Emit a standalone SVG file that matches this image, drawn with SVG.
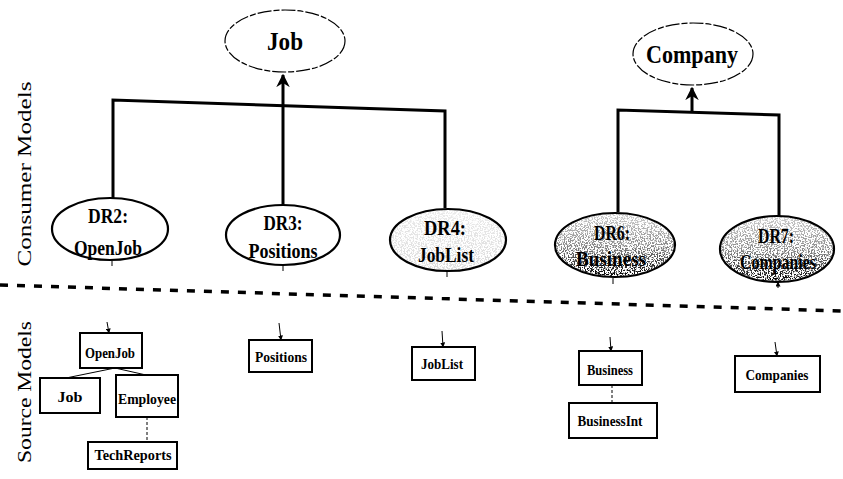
<svg xmlns="http://www.w3.org/2000/svg" width="843" height="479" viewBox="0 0 843 479">
<style>
.bg{fill:#fff}
.ell{fill:none;stroke:#000;stroke-width:2.2}
.top{fill:#fff;stroke:#000;stroke-width:1.2;stroke-dasharray:14 2 6 2}
.con{fill:none;stroke:#000;stroke-width:3}
.box{fill:#fff;stroke:#000;stroke-width:2}
.thin{fill:none;stroke:#000;stroke-width:1}
.dash{fill:none;stroke:#000;stroke-width:3.5;stroke-dasharray:8 9}
.dr{font-family:"Liberation Serif",serif;font-weight:bold;font-size:22px;fill:#000;text-anchor:middle}
.tt{font-family:"Liberation Serif",serif;font-weight:bold;font-size:26px;fill:#000;text-anchor:middle}
.sm{font-family:"Liberation Serif",serif;font-weight:bold;font-size:14px;fill:#000;text-anchor:middle}
.side{font-family:"Liberation Serif",serif;font-size:18px;fill:#000;text-anchor:middle}
</style>
<defs>
<marker id="ah" viewBox="0 0 10 10" refX="9" refY="5" markerWidth="4.5" markerHeight="4.5" orient="auto" markerUnits="strokeWidth">
<path d="M0,0 L10,5 L0,10 L3,5 z" fill="#000"/>
</marker>
<marker id="sa" viewBox="0 0 10 10" refX="9" refY="5" markerWidth="5" markerHeight="5" orient="auto" markerUnits="userSpaceOnUse">
<path d="M0,0 L10,5 L0,10 z" fill="#000"/>
</marker>
<linearGradient id="gd" x1="0" y1="0" x2="0" y2="1">
<stop offset="0" stop-color="#000" stop-opacity="0.2"/>
<stop offset="0.5" stop-color="#000" stop-opacity="0.45"/>
<stop offset="1" stop-color="#000" stop-opacity="1"/>
</linearGradient>
<linearGradient id="gl" x1="0" y1="0" x2="0" y2="1">
<stop offset="0" stop-color="#000" stop-opacity="0.08"/>
<stop offset="1" stop-color="#000" stop-opacity="0.14"/>
</linearGradient>
<filter id="sp" x="0" y="0" width="1" height="1">
<feTurbulence type="fractalNoise" baseFrequency="0.7" numOctaves="2" seed="4" result="n"/>
<feColorMatrix in="n" type="matrix" values="0 0 0 0 0  0 0 0 0 0  0 0 0 0 0  9 0 0 0 -4.2" result="d"/>
<feComposite in="d" in2="SourceGraphic" operator="in"/>
</filter>
</defs>
<rect class="bg" x="0" y="0" width="843" height="479"/>

<text class="side" transform="translate(31,174) rotate(-90)" textLength="185" lengthAdjust="spacingAndGlyphs">Consumer Models</text>
<text class="side" transform="translate(31,392) rotate(-90)" textLength="142" lengthAdjust="spacingAndGlyphs">Source Models</text>

<path class="dash" d="M0,285 L843,311"/>

<g id="connectors">
<path class="con" d="M113,198 L113,100 L445,111 L445,208"/>
<path class="con" d="M283,205 L283,75" marker-end="url(#ah)"/>
<path class="con" d="M618,212 L618,110 L779,115 L779,216"/>
<path class="con" d="M692,112 L692,88" marker-end="url(#ah)"/>
<path class="thin" d="M115,368 L66,378"/>
<path class="thin" d="M115,368 L146,375"/>
<path class="thin" d="M147,417 L147,442" stroke-dasharray="3 2"/>
<path class="thin" d="M612,385 L612,403" stroke-dasharray="3 2"/>
<path class="thin" d="M112,261 L112,266"/>
<path class="thin" d="M283,266 L283,271"/>
<path class="thin" d="M447,272 L447,277"/>
<path class="thin" d="M613,278 L613,284"/>
<path class="thin" d="M778,288 L778,282" marker-end="url(#sa)"/>
<path class="thin" d="M107,322 L109,333" marker-end="url(#sa)"/>
<path class="thin" d="M279,323 L281,340" marker-end="url(#sa)"/>
<path class="thin" d="M442,331 L443,347" marker-end="url(#sa)"/>
<path class="thin" d="M610,337 L611,351" marker-end="url(#sa)"/>
<path class="thin" d="M775,342 L777,356" marker-end="url(#sa)"/>
</g>

<g id="job">
<ellipse class="top" cx="285" cy="41" rx="60" ry="31"/>
<text class="tt" x="285" y="50" textLength="36" lengthAdjust="spacingAndGlyphs">Job</text>
</g>
<g id="company">
<ellipse class="top" cx="693" cy="54" rx="60" ry="31"/>
<text class="tt" x="692" y="63" textLength="92" lengthAdjust="spacingAndGlyphs">Company</text>
</g>

<g id="dr2">
<ellipse class="ell" cx="110" cy="229" rx="58" ry="31"/>
<text class="dr" x="108" y="223" textLength="40" lengthAdjust="spacingAndGlyphs">DR2:</text>
<text class="dr" x="108" y="255" textLength="68" lengthAdjust="spacingAndGlyphs">OpenJob</text>
</g>
<g id="dr3">
<ellipse class="ell" cx="283" cy="235" rx="57" ry="30"/>
<text class="dr" x="283" y="230" textLength="39" lengthAdjust="spacingAndGlyphs">DR3:</text>
<text class="dr" x="283" y="258" textLength="69" lengthAdjust="spacingAndGlyphs">Positions</text>
</g>
<g id="dr4">
<ellipse cx="448" cy="240" rx="57" ry="30" fill="url(#gl)" filter="url(#sp)"/>
<ellipse class="ell" cx="448" cy="240" rx="58" ry="31"/>
<text class="dr" x="445" y="235" textLength="42" lengthAdjust="spacingAndGlyphs">DR4:</text>
<text class="dr" x="446" y="262" textLength="56" lengthAdjust="spacingAndGlyphs">JobList</text>
</g>
<g id="dr6">
<ellipse cx="615" cy="245" rx="59" ry="31" fill="url(#gd)" filter="url(#sp)"/>
<ellipse class="ell" cx="615" cy="245" rx="60" ry="32"/>
<text class="dr" x="612" y="240" textLength="36" lengthAdjust="spacingAndGlyphs">DR6:</text>
<text class="dr" x="611" y="266" textLength="70" lengthAdjust="spacingAndGlyphs">Business</text>
</g>
<g id="dr7">
<ellipse cx="777" cy="249" rx="56" ry="32" fill="url(#gd)" filter="url(#sp)"/>
<ellipse class="ell" cx="777" cy="249" rx="57" ry="33"/>
<text class="dr" x="776" y="243" textLength="36" lengthAdjust="spacingAndGlyphs">DR7:</text>
<text class="dr" x="778" y="269" textLength="76" lengthAdjust="spacingAndGlyphs">Companies</text>
</g>

<g id="s-openjob"><rect class="box" x="80" y="333" width="62" height="35"/><text class="sm" x="110" y="358" textLength="50" lengthAdjust="spacingAndGlyphs">OpenJob</text></g>
<g id="s-job"><rect class="box" x="40" y="378" width="60" height="35"/><text class="sm" x="70" y="402" textLength="25" lengthAdjust="spacingAndGlyphs">Job</text></g>
<g id="s-employee"><rect class="box" x="116" y="375" width="62" height="42"/><text class="sm" x="147" y="404" textLength="58" lengthAdjust="spacingAndGlyphs">Employee</text></g>
<g id="s-techreports"><rect class="box" x="88" y="442" width="89" height="27"/><text class="sm" x="133" y="460" textLength="77" lengthAdjust="spacingAndGlyphs">TechReports</text></g>
<g id="s-positions"><rect class="box" x="249" y="340" width="63" height="32"/><text class="sm" x="281" y="362" textLength="52" lengthAdjust="spacingAndGlyphs">Positions</text></g>
<g id="s-joblist"><rect class="box" x="412" y="347" width="63" height="33"/><text class="sm" x="442" y="369" textLength="42" lengthAdjust="spacingAndGlyphs">JobList</text></g>
<g id="s-business"><rect class="box" x="579" y="351" width="63" height="34"/><text class="sm" x="610" y="375" textLength="46" lengthAdjust="spacingAndGlyphs">Business</text></g>
<g id="s-businessint"><rect class="box" x="569" y="403" width="88" height="35"/><text class="sm" x="610" y="426" textLength="65" lengthAdjust="spacingAndGlyphs">BusinessInt</text></g>
<g id="s-companies"><rect class="box" x="735" y="356" width="85" height="36"/><text class="sm" x="777" y="380" textLength="63" lengthAdjust="spacingAndGlyphs">Companies</text></g>
</svg>
